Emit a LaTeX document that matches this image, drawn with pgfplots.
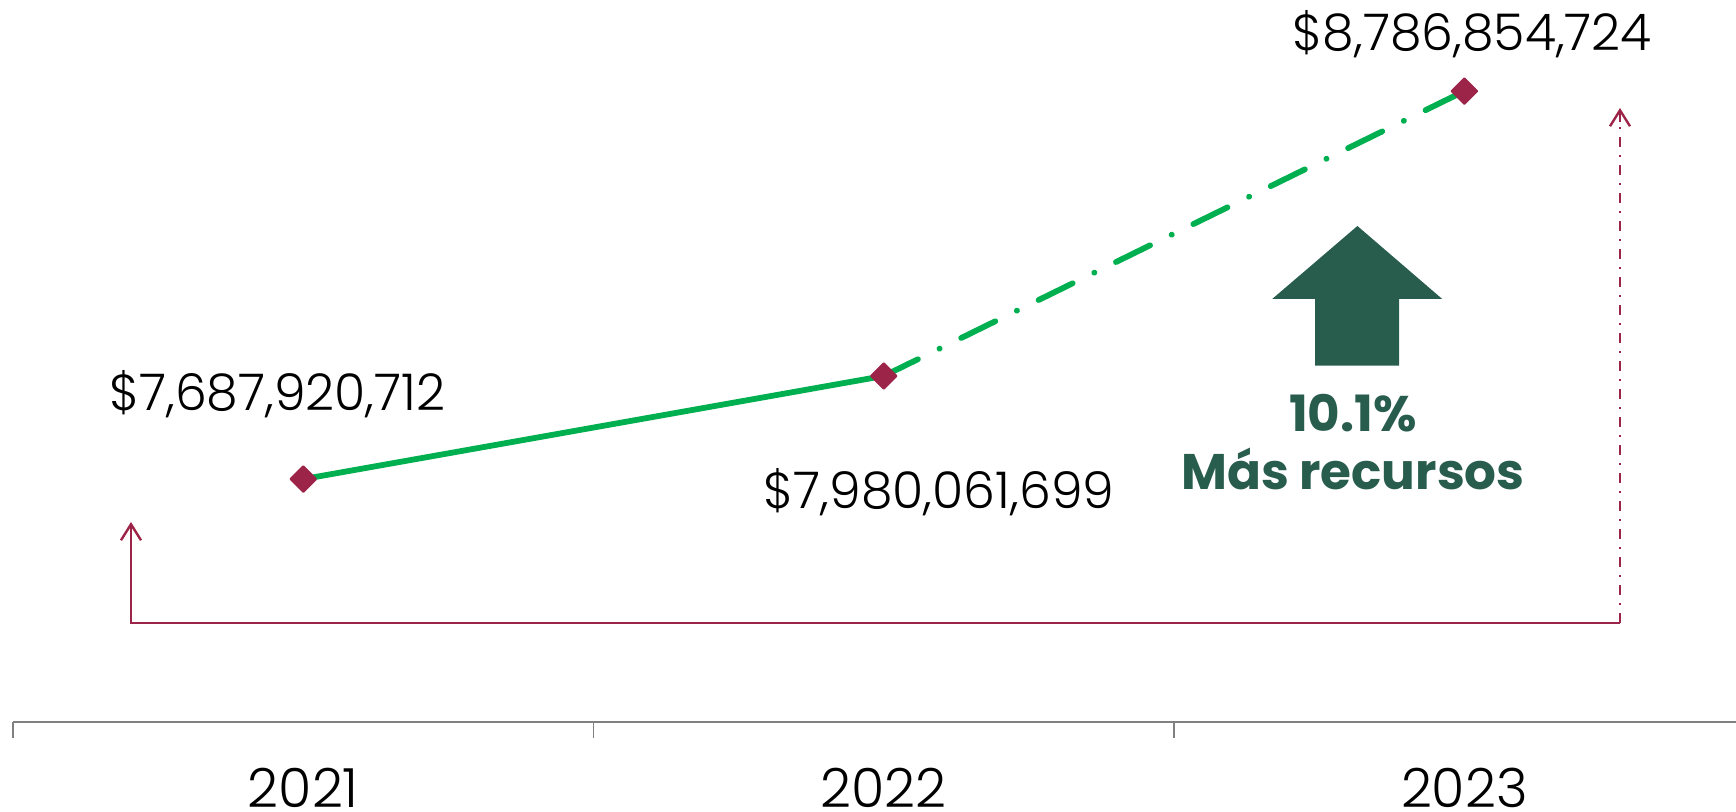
\documentclass[border=0pt]{standalone}
\usepackage{pgfplots}
\pgfplotsset{compat=1.18}
\usetikzlibrary{arrows.meta}
\usepackage{fontspec}
\setmainfont{Poppins}[UprightFont={* Light},BoldFont={* Bold}]
\definecolor{lgreen}{HTML}{00B050}
\definecolor{guinda}{HTML}{9D2449}
\definecolor{dgreen}{HTML}{285C4D}
\definecolor{axgray}{HTML}{808080}
\newcommand\vfont{\fontsize{25.3}{27}\selectfont}
\begin{document}
\begin{tikzpicture}
\path[use as bounding box] (-6.5pt,-45pt) rectangle (861.5pt,361pt);
\begin{axis}[
  at={(0pt,0pt)}, anchor=south west,
  scale only axis, width=861.5pt, height=361pt,
  xmin=-0.5, xmax=2.468, ymin=7000, ymax=9045,
  axis x line=bottom, axis y line=none,
  axis line style={-, draw=axgray, line width=0.8pt},
  xtick={-0.5,0.5,1.5}, xticklabels={},
  tick align=outside, major tick length=8pt,
  tick style={draw=axgray, line width=0.8pt},
  extra x ticks={0,1,2}, extra x tick labels={{2021},{2022},{2023}},
  extra x tick style={major tick length=0pt, xticklabel style={anchor=base, yshift=-43pt}},
  ticklabel style={font=\fontsize{27}{29}\selectfont},
  clip=false,
]
\addplot[lgreen, line width=2.9pt, line cap=round] coordinates {(0,7687.920712) (1,7980.061699)};
\addplot[lgreen, line width=2.9pt, line cap=round, dash pattern=on 19pt off 12pt on 0.1pt off 12pt] coordinates {(1,7980.061699) (2,8786.854724)};
\addplot[only marks, mark=square*, mark size=4.5pt, mark options={fill=guinda, draw=guinda, line width=1pt, line join=round, rotate=45}] coordinates {(0,7687.920712) (1,7980.061699) (2,8786.854724)};
\node[anchor=base, font=\vfont, xshift=-13pt, yshift=34.5pt] at (axis cs:0,7687.920712) {\$7,687,920,712};
\node[anchor=base, font=\vfont, xshift=27.6pt, yshift=-66.5pt] at (axis cs:1,7980.061699) {\$7,980,061,699};
\node[anchor=base, font=\vfont, xshift=4pt, yshift=20.5pt] at (axis cs:2,8786.854724) {\$8,786,854,724};
\end{axis}
% bracket
\draw[guinda, line width=1.2pt, -{Straight Barb[length=8pt,width=10pt]}] (803.5pt,49.5pt) -- (59pt,49.5pt) -- (59pt,100pt);
\draw[guinda, line width=1.2pt, dash pattern=on 5pt off 4pt on 1pt off 4pt] (803.5pt,49.5pt) -- (803.5pt,304pt);
\draw[guinda, line width=1.2pt, -{Straight Barb[length=8pt,width=10pt]}] (803.5pt,300pt) -- (803.5pt,307pt);
% big arrow
\fill[dgreen] (672.2pt,248pt) -- (714.6pt,211.5pt) -- (693pt,211.5pt) -- (693pt,178.2pt) -- (651.1pt,178.2pt) -- (651.1pt,211.5pt) -- (629.6pt,211.5pt) -- cycle;
\node[anchor=base, text=dgreen, font=\bfseries\fontsize{25}{27}\selectfont] at (670pt,145pt) {10.1\%};
\node[anchor=base, text=dgreen, font=\bfseries\fontsize{25}{27}\selectfont] at (670pt,116pt) {Más recursos};
\end{tikzpicture}
\end{document}
